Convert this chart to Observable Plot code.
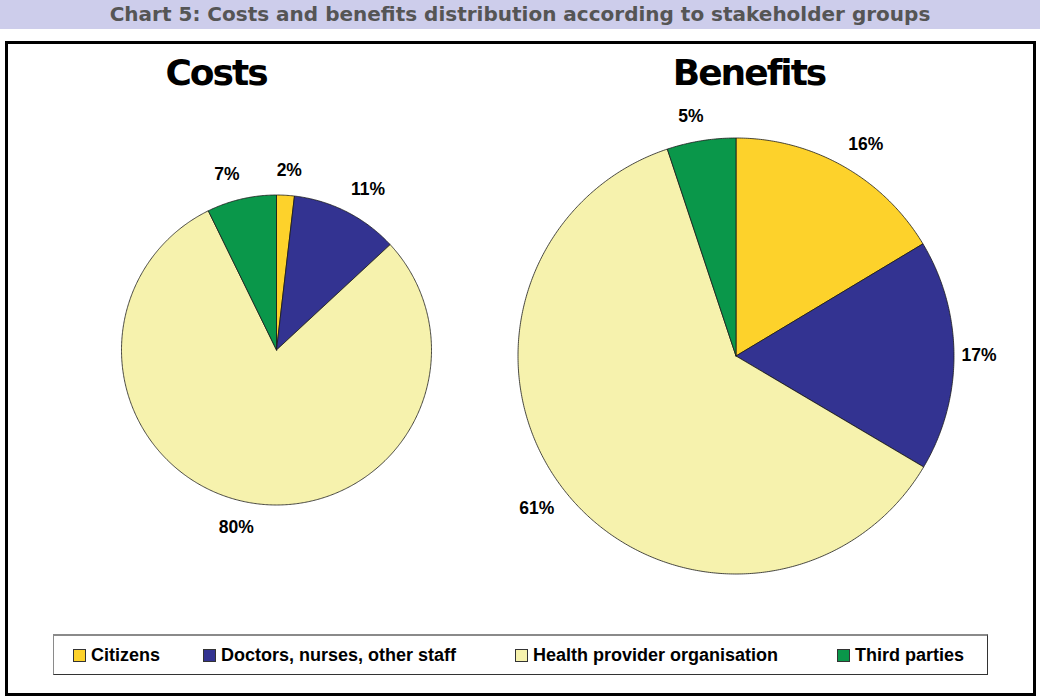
<!DOCTYPE html>
<html>
<head>
<meta charset="utf-8">
<script src="https://cdn.jsdelivr.net/npm/d3@7"></script>
<script src="https://cdn.jsdelivr.net/npm/@observablehq/plot@0.6"></script>
<style>
  html, body { margin: 0; padding: 0; background: #fff; }
  body { width: 1040px; height: 698px; position: relative; overflow: hidden; font-family: "Liberation Sans", Arial, sans-serif; }
  #header { position: absolute; left: 0; top: 0; width: 1040px; height: 29px; background: #cdcdeb;
            color: #555; font-family: "DejaVu Sans", sans-serif; font-weight: bold; font-size: 20px;
            line-height: 29px; text-align: center; }
  #frame { position: absolute; left: 5px; top: 41px; width: 1031px; height: 655px; box-sizing: border-box; border: 3px solid #000; }
  #chart { position: absolute; left: 0; top: 41px; }
  #legend { position: absolute; left: 53px; top: 634px; width: 935px; height: 41px; box-sizing: border-box;
            border-top: 2px solid #8a8a8a; border-left: 1px solid #8a8a8a; border-right: 1px solid #333; border-bottom: 1px solid #333; background: #fff; }
  .item { position: absolute; top: 0; height: 38px; display: flex; align-items: center; font-weight: bold; font-size: 18px; color: #000; white-space: nowrap; }
  .swatch { width: 11px; height: 11px; border: 1px solid #333; margin-right: 5px; }
</style>
</head>
<body>
<div id="header"></div>
<div id="frame"></div>
<div id="chart"></div>
<div id="legend"></div>
<script>
// ---------- data ----------
const chartTitle = "Chart 5: Costs and benefits distribution according to stakeholder groups";
const categories = ["Citizens", "Doctors, nurses, other staff", "Health provider organisation", "Third parties"];
const costsShare = [1.85, 11.25, 79.65, 7.25];      // % of costs
const benefitsShare = [16.4, 17.1, 61.4, 5.1];      // % of benefits
const pieTitles = ["Costs", "Benefits"];
const colors = ["#fdd22b", "#333391", "#f6f2ad", "#0a974a"];

// ---------- layout (page pixel space) ----------
const W = 1040, H = 590, TOP = 41;
const pies = [
  {title: pieTitles[0], values: costsShare, cx: 276, cy: 349.5, r: 155, titleX: 215.5},
  {title: pieTitles[1], values: benefitsShare, cx: 735.5, cy: 355.5, r: 218, titleX: 748.5}
];
const titleBaseline = 84;
const labelGap = 25;

document.getElementById("header").textContent = chartTitle;

const wedgePts = [];
const labels = [];
const titles = [];
pies.forEach((p) => {
  const total = d3.sum(p.values);
  let acc = 0;
  p.values.forEach((v, i) => {
    const a0 = acc / total * 2 * Math.PI;
    acc += v;
    const a1 = acc / total * 2 * Math.PI;
    const key = p.title + "|" + categories[i];
    const pt = (a, rr) => ({key, cat: categories[i], x: p.cx + rr * Math.sin(a), y: p.cy - rr * Math.cos(a)});
    wedgePts.push(pt(0, 0));
    const n = Math.max(2, Math.ceil((a1 - a0) / (Math.PI / 360)));
    for (let k = 0; k <= n; k++) wedgePts.push(pt(a0 + (a1 - a0) * k / n, p.r));
    wedgePts.push(pt(0, 0));
    const am = (a0 + a1) / 2;
    const s = Math.sin(am), c = Math.cos(am);
    const push = Math.abs(c) > 0.3 ? 10 * Math.max(-1, Math.min(1, 4 * s)) : 0;
    labels.push({
      x: p.cx + (p.r + labelGap) * s + push,
      y: p.cy - (p.r + labelGap) * c,
      text: Math.round(v / total * 100) + "%"
    });
  });
  titles.push({x: p.titleX, y: titleBaseline, text: p.title});
});

const plot = Plot.plot({
  width: W, height: H,
  margin: 0,
  x: {domain: [0, W], range: [0, W], axis: null},
  y: {domain: [TOP, TOP + H], range: [0, H], axis: null},
  color: {domain: categories, range: colors},
  style: {background: "transparent", overflow: "visible"},
  marks: [
    Plot.line(wedgePts, {x: "x", y: "y", z: "key", fill: "cat", stroke: "#1a1a1a", strokeWidth: 0.8, strokeLinejoin: "round", curve: "linear"}),
    Plot.text(labels, {x: "x", y: "y", text: "text", fontSize: 17.5, fontWeight: "bold", fontFamily: "Liberation Sans, Arial, sans-serif", fill: "#000", textAnchor: "middle", lineAnchor: "middle"}),
    Plot.text(titles, {x: "x", y: "y", text: "text", fontSize: 36, fontWeight: "bold", fontFamily: "DejaVu Sans, sans-serif", fill: "#000", textAnchor: "middle", lineAnchor: "bottom"})
  ]
});
document.getElementById("chart").appendChild(plot);
d3.select(plot).selectAll("text").filter(function() { return pieTitles.includes(this.textContent); })
  .attr("letter-spacing", "-2px");

// legend
const legendLefts = [19, 149, 461, 783];
const legend = d3.select("#legend");
categories.forEach((c, i) => {
  const it = legend.append("div").attr("class", "item").style("left", legendLefts[i] + "px");
  it.append("div").attr("class", "swatch").style("background", colors[i]);
  it.append("span").text(c);
});
</script>
</body>
</html>
